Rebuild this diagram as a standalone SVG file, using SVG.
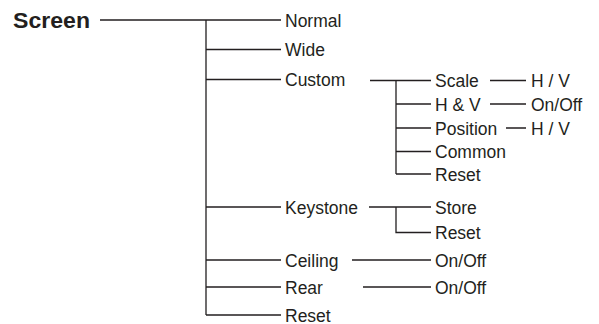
<svg xmlns="http://www.w3.org/2000/svg" width="599" height="324" viewBox="0 0 599 324">
<style>
text{font-family:"Liberation Sans",Arial,sans-serif;font-size:17.5px;fill:#231f20}
.title{font-weight:bold;font-size:22px}
#connectors path{fill:none;stroke:#231f20;stroke-width:1.3}
</style>
<rect width="599" height="324" fill="#fff"/>
<g id="connectors">
<path d="M100 20H281M206 20V315M206 49.5H281M206 79.5H281M206 207H281M206 260H281M206 287H281M206 315H281"/>
<path d="M370 80.5H431M396 80.5V174M396 104H431M396 128H431M396 151.5H431M396 174H431"/>
<path d="M490 80.5H526M490 104H526M506 128H526"/>
<path d="M369 207H431M396 207V232.5H431M352 260H431M363 287H431"/>
</g>
<g id="screen"><text class="title" x="13" y="27.5" textLength="77" lengthAdjust="spacingAndGlyphs">Screen</text></g>
<g id="normal"><text x="285" y="26.5">Normal</text></g>
<g id="wide"><text x="285" y="56">Wide</text></g>
<g id="custom"><text x="285" y="86">Custom</text></g>
<g id="scale"><text x="435" y="87">Scale</text></g>
<g id="scale-hv"><text x="531" y="87">H / V</text></g>
<g id="hv"><text x="435" y="110.5">H &amp; V</text></g>
<g id="hv-onoff"><text x="531" y="110.5">On/Off</text></g>
<g id="position"><text x="435" y="134.5">Position</text></g>
<g id="position-hv"><text x="531" y="134.5">H / V</text></g>
<g id="common"><text x="435" y="158">Common</text></g>
<g id="custom-reset"><text x="435" y="180.5">Reset</text></g>
<g id="keystone"><text x="285" y="213.5">Keystone</text></g>
<g id="store"><text x="435" y="213.5">Store</text></g>
<g id="keystone-reset"><text x="435" y="239">Reset</text></g>
<g id="ceiling"><text x="285" y="266.5">Ceiling</text></g>
<g id="ceiling-onoff"><text x="435" y="266.5">On/Off</text></g>
<g id="rear"><text x="285" y="293.5">Rear</text></g>
<g id="rear-onoff"><text x="435" y="293.5">On/Off</text></g>
<g id="reset"><text x="285" y="321.5">Reset</text></g>
</svg>
